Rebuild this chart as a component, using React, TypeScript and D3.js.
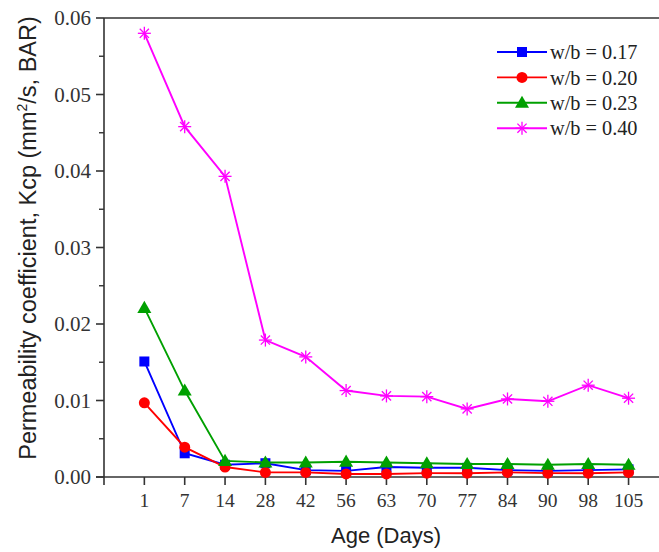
import React from "react";
import * as d3 from "d3";

const ages = ["1", "7", "14", "28", "42", "56", "63", "70", "77", "84", "90", "98", "105"];
const wb017 = [0.0151, 0.0031, 0.0016, 0.0018, 0.0009, 0.0008, 0.0013, 0.0012, 0.0012, 0.0009, 0.0008, 0.0009, 0.0010];
const wb020 = [0.0097, 0.0039, 0.0013, 0.0006, 0.0006, 0.0004, 0.0004, 0.0005, 0.0005, 0.0006, 0.0005, 0.0005, 0.0006];
const wb023 = [0.0221, 0.0113, 0.0021, 0.0019, 0.0019, 0.0020, 0.0019, 0.0018, 0.0017, 0.0017, 0.0016, 0.0017, 0.0016];
const wb040 = [0.0580, 0.0458, 0.0393, 0.0179, 0.0157, 0.0113, 0.0106, 0.0105, 0.0089, 0.0102, 0.0099, 0.0120, 0.0103];
const yTicks = [0, 0.01, 0.02, 0.03, 0.04, 0.05, 0.06];
const yMinor = [0.005, 0.015, 0.025, 0.035, 0.045, 0.055];

const seriesNames = ["w/b = 0.17", "w/b = 0.20", "w/b = 0.23", "w/b = 0.40"];
const seriesColors = ["#0000ff", "#ff0000", "#00a000", "#ff00ff"];
const seriesMarkers = ["square", "circle", "triangle", "asterisk"];
const seriesData = [wb017, wb020, wb023, wb040];

const W = 659, H = 552;
const left = 104, top = 18, bottom = 477, step = 40.35;

function Marker({ type, x, y, color }: { type: string; x: number; y: number; color: string }) {
  if (type === "square") return <rect x={x - 5} y={y - 5} width={10} height={10} fill={color} />;
  if (type === "circle") return <circle cx={x} cy={y} r={5.5} fill={color} />;
  if (type === "triangle") {
    const p = d3.symbol().type(d3.symbolTriangle).size(85)();
    return <path d={p || ""} transform={`translate(${x},${y + 1})`} fill={color} />;
  }
  const r = 6.5;
  const angles = [0, 45, 90, 135];
  return (
    <g stroke={color} strokeWidth={1.3}>
      {angles.map((a) => {
        const rad = (a * Math.PI) / 180;
        return (
          <line key={a} x1={x - r * Math.cos(rad)} y1={y - r * Math.sin(rad)} x2={x + r * Math.cos(rad)} y2={y + r * Math.sin(rad)} />
        );
      })}
    </g>
  );
}

export default function App() {
  const x = d3.scaleLinear().domain([0, 14]).range([left, left + 14 * step]);
  const y = d3.scaleLinear().domain([0, 0.06]).range([bottom, top]);
  const line = d3
    .line<number>()
    .x((_, i) => x(i + 1))
    .y((d) => y(d));
  const axisColor = "#333";
  const serif = "'Liberation Serif', 'Times New Roman', serif";
  const sans = "'Liberation Sans', Arial, sans-serif";
  const legendX = 497, legendY = 52, legendStep = 25.4;

  return (
    <div style={{ position: "fixed", left: 0, top: 0, width: W, height: H, background: "#fff" }}>
      <svg width={W} height={H} style={{ display: "block" }}>
        <rect width={W} height={H} fill="#fff" />
        {/* axes */}
        <line x1={left} y1={top} x2={W} y2={top} stroke={axisColor} strokeWidth={1.6} />
        <line x1={left} y1={top} x2={left} y2={bottom + 8} stroke={axisColor} strokeWidth={1.6} />
        <line x1={left - 8} y1={bottom} x2={W} y2={bottom} stroke={axisColor} strokeWidth={1.6} />
        {yTicks.map((t) => (
          <g key={t}>
            <line x1={left - 8} x2={left} y1={y(t)} y2={y(t)} stroke={axisColor} strokeWidth={1.6} />
            <text x={left - 13} y={y(t)} dy="0.35em" textAnchor="end" fontFamily={serif} fontSize={21} fill="#333">
              {t.toFixed(2)}
            </text>
          </g>
        ))}
        {yMinor.map((t) => (
          <line key={t} x1={left - 5} x2={left} y1={y(t)} y2={y(t)} stroke={axisColor} strokeWidth={1.4} />
        ))}
        {ages.map((a, i) => (
          <g key={a}>
            <line x1={x(i + 1)} x2={x(i + 1)} y1={bottom} y2={bottom + 8} stroke={axisColor} strokeWidth={1.6} />
            <text x={x(i + 1)} y={bottom + 30} textAnchor="middle" fontFamily={serif} fontSize={19.5} fill="#333">
              {a}
            </text>
          </g>
        ))}
        {/* series */}
        {seriesData.map((data, s) => (
          <g key={s}>
            <path d={line(data) || ""} fill="none" stroke={seriesColors[s]} strokeWidth={1.9} />
            {data.map((v, i) => (
              <Marker key={i} type={seriesMarkers[s]} x={x(i + 1)} y={y(v)} color={seriesColors[s]} />
            ))}
          </g>
        ))}
        {/* legend */}
        {seriesNames.map((n, s) => {
          const ly = legendY + s * legendStep;
          return (
            <g key={n}>
              <line x1={legendX} x2={legendX + 50} y1={ly} y2={ly} stroke={seriesColors[s]} strokeWidth={1.9} />
              <Marker type={seriesMarkers[s]} x={legendX + 25} y={ly} color={seriesColors[s]} />
              <text x={legendX + 53} y={ly} dy="0.35em" fontFamily={serif} fontSize={20.3} fill="#222">
                {n}
              </text>
            </g>
          );
        })}
        {/* axis titles */}
        <text x={386} y={543} textAnchor="middle" fontFamily={sans} fontSize={22} fill="#222">
          Age (Days)
        </text>
        <text
          transform={`translate(36,238) rotate(-90)`}
          textAnchor="middle"
          fontFamily={sans}
          fontSize={23.5}
          fill="#222"
        >
          Permeability coefficient, Kcp (mm
          <tspan dy={-9} fontSize={14}>2</tspan>
          <tspan dy={9}>/s, BAR)</tspan>
        </text>
      </svg>
    </div>
  );
}
